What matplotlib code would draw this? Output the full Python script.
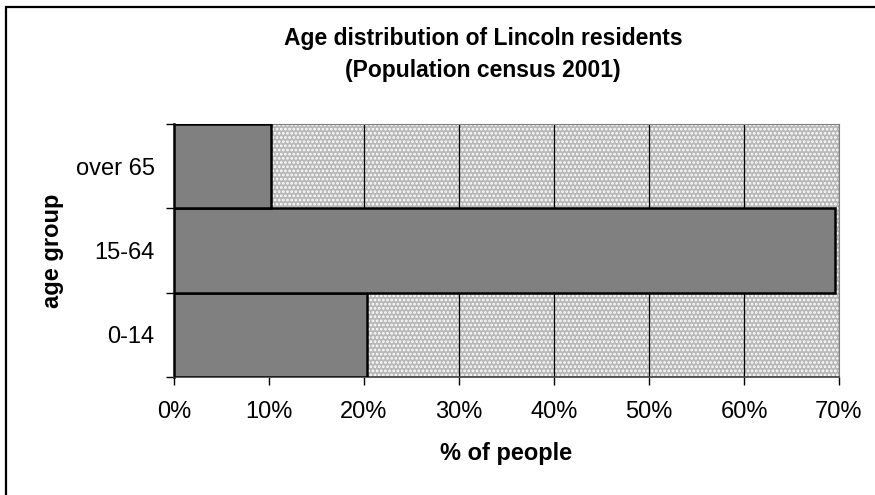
import matplotlib
matplotlib.use("Agg")
import matplotlib.pyplot as plt
from matplotlib.patches import Rectangle
from matplotlib.ticker import FuncFormatter

# data
age_groups = ["0-14", "15-64", "over 65"]
share = [0.203, 0.696, 0.102]
x_ticks = [0.0, 0.1, 0.2, 0.3, 0.4, 0.5, 0.6, 0.7]

plt.rcParams['font.family'] = ['Liberation Sans', 'DejaVu Sans']
plt.rcParams['hatch.color'] = 'white'
plt.rcParams['hatch.linewidth'] = 1.3

fig = plt.figure(figsize=(8.75, 4.95), dpi=100)
ax = fig.add_axes([174 / 875, 1 - 377 / 495, 665 / 875, 253 / 495])

# dotted grey plot area like the old excel pattern fill
ax.set_facecolor('#b8b8b8')
ax.add_patch(Rectangle((0, 0), 1, 1, transform=ax.transAxes, facecolor='none',
                       hatch='....', linewidth=0, zorder=0))

ypos = list(range(len(age_groups)))
ax.barh(ypos, share, height=1.0, color='#808080', edgecolor='black',
        linewidth=1.8, zorder=3)

ax.set_xlim(0, 0.7)
ax.set_ylim(-0.5, len(age_groups) - 0.5)
ax.set_xticks(x_ticks)
ax.xaxis.set_major_formatter(FuncFormatter(lambda v, p: f"{v * 100:.0f}%"))
ax.grid(axis='x', color='black', linewidth=0.9, zorder=1)
ax.set_axisbelow(True)

# category ticks sit on the boundaries, labels in the middle
ax.set_yticks([y - 0.5 for y in ypos] + [ypos[-1] + 0.5])
ax.set_yticklabels([])
ax.set_yticks(ypos, minor=True)
ax.set_yticklabels(age_groups, minor=True)
ax.tick_params(axis='y', which='minor', length=0, pad=14, labelsize=17)
ax.tick_params(axis='y', which='major', length=6, width=1, direction='out')
ax.tick_params(axis='x', length=6, width=1, direction='out', labelsize=17, pad=11)

for side in ['top', 'right']:
    ax.spines[side].set_color('#808080')
ax.spines['left'].set_linewidth(1.8)
ax.spines['bottom'].set_color('#404040')
ax.spines['bottom'].set_linewidth(1.2)

ax.set_xlabel('% of people', fontsize=17, fontweight='bold', labelpad=14)
ax.set_ylabel('age group', fontsize=17, fontweight='bold', labelpad=8)
fig.text(483 / 875, 1 - 45 / 495, 'Age distribution of Lincoln residents',
         ha='center', va='baseline', fontsize=16.5, fontweight='bold')
fig.text(483 / 875, 1 - 77 / 495, '(Population census 2001)',
         ha='center', va='baseline', fontsize=16.5, fontweight='bold')

# chart border, cut off at the right and bottom like the screenshot
fig.patches.append(Rectangle((6 / 875, -0.1), 1.2, 1.1 - 7 / 495,
                             transform=fig.transFigure, fill=False,
                             edgecolor='black', linewidth=1.6))

fig.savefig('out.png', dpi=100)
